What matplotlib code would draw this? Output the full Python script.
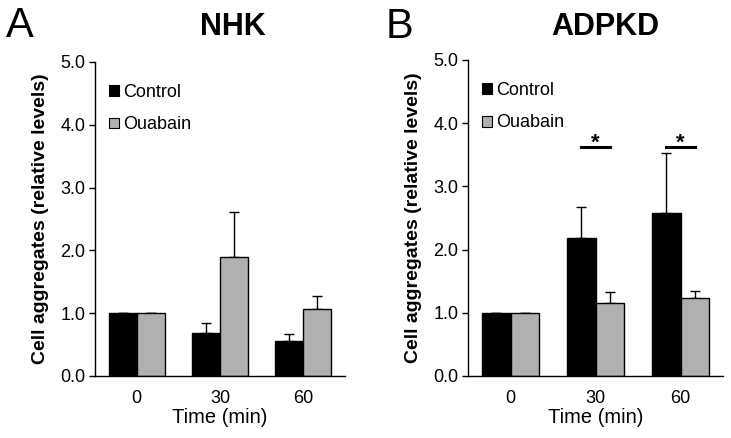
import numpy as np
import matplotlib
matplotlib.use("Agg")
import matplotlib.pyplot as plt
from matplotlib.patches import Patch

plt.rcParams["font.family"] = ["Liberation Sans", "DejaVu Sans"]

times = ["0", "30", "60"]
series = ["Control", "Ouabain"]
colors = ["#000000", "#b0b0b0"]

# panel A (NHK)
nhk_control = [1.0, 0.69, 0.56]
nhk_control_err = [0.0, 0.16, 0.11]
nhk_ouabain = [1.0, 1.90, 1.06]
nhk_ouabain_err = [0.0, 0.71, 0.22]

# panel B (ADPKD)
adpkd_control = [1.0, 2.19, 2.58]
adpkd_control_err = [0.0, 0.49, 0.95]
adpkd_ouabain = [1.0, 1.16, 1.24]
adpkd_ouabain_err = [0.0, 0.17, 0.10]
sig_groups = [1, 2]
sig_level = 3.62

fig = plt.figure(figsize=(7.31, 4.38), dpi=100)
axA = fig.add_axes([95 / 731, 1 - 376 / 438, 250 / 731, 314 / 438])
axB = fig.add_axes([468 / 731, 1 - 376 / 438, 255 / 731, 316 / 438])

w = 0.335
x = np.arange(len(times))


def draw(ax, ctrl, ctrl_err, oua, oua_err):
    for off, vals, errs, c in [(-w / 2, ctrl, ctrl_err, colors[0]),
                               (w / 2, oua, oua_err, colors[1])]:
        ax.bar(x + off, vals, w, color=c, edgecolor="black", linewidth=1, zorder=2)
        ax.errorbar(x + off, vals, yerr=[np.zeros(len(errs)), errs], fmt="none",
                    ecolor="black", elinewidth=1, capsize=3.6, capthick=1, zorder=1)
    ax.set_xlim(-0.5, 2.5)
    ax.set_ylim(0, 5)
    ax.set_yticks(np.arange(0, 5.01, 1.0))
    ax.set_yticklabels([f"{v:.1f}" for v in np.arange(0, 5.01, 1.0)], fontsize=13)
    ax.set_xticks(x)
    ax.set_xticklabels(times, fontsize=13)
    ax.tick_params(axis="x", length=0, pad=10)
    ax.tick_params(axis="y", length=4, width=1, direction="out", pad=3)
    for s in ["top", "right"]:
        ax.spines[s].set_visible(False)
    for s in ["left", "bottom"]:
        ax.spines[s].set_linewidth(1)
    ax.set_xlabel("Time (min)", fontsize=14.5, labelpad=1)
    ax.set_ylabel("Cell aggregates (relative levels)", fontsize=14,
                  fontweight="bold", labelpad=8)
    handles = [Patch(facecolor=c, edgecolor="black", linewidth=0.8) for c in colors]
    ax.legend(handles, series, loc="upper left", bbox_to_anchor=(0.055, 0.93),
              frameon=False, fontsize=13, handlelength=0.58, handleheight=0.55,
              handletextpad=0.2, labelspacing=0.85, borderpad=0, borderaxespad=0)


draw(axA, nhk_control, nhk_control_err, nhk_ouabain, nhk_ouabain_err)
draw(axB, adpkd_control, adpkd_control_err, adpkd_ouabain, adpkd_ouabain_err)

for g in sig_groups:
    axB.plot([g - w / 2, g + w / 2], [sig_level, sig_level], color="black", lw=2.2)
    axB.text(g, sig_level + 0.06, "*", ha="center", va="center", fontsize=16,
             fontweight="bold")

fig.text(233 / 731, 1 - 27 / 438, "NHK", ha="center", va="center", fontsize=22,
         fontweight="bold")
fig.text(605 / 731, 1 - 27 / 438, "ADPKD", ha="center", va="center", fontsize=22,
         fontweight="bold")
fig.text(6 / 731, 1 - 26 / 438, "A", ha="left", va="center", fontsize=30)
fig.text(386 / 731, 1 - 27 / 438, "B", ha="left", va="center", fontsize=30)

fig.savefig("out.png", dpi=100)
